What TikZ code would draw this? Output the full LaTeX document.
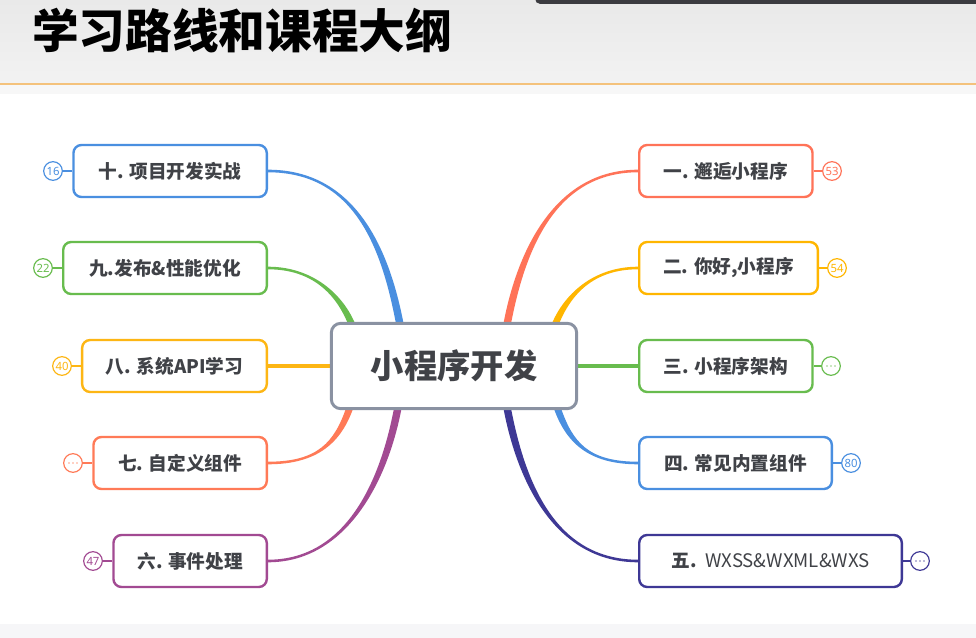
\documentclass[tikz,border=0pt]{standalone}
\usepackage{fontspec}
\setmainfont{Noto Sans CJK SC}
\newfontfamily\numfont{Noto Sans}
\usetikzlibrary{calc,backgrounds}

\definecolor{cblue}{HTML}{4A8FE0}
\definecolor{cgreen}{HTML}{68BC4E}
\definecolor{cyellow}{HTML}{FDB614}
\definecolor{corange}{HTML}{FF7A57}
\definecolor{cpurple}{HTML}{A24A92}
\definecolor{cnavy}{HTML}{3E3895}
\definecolor{ccoral}{HTML}{FF7358}
\definecolor{camber}{HTML}{FFB600}
\definecolor{hubline}{HTML}{8A92A2}
\definecolor{ink}{HTML}{404247}
\definecolor{headtop}{HTML}{E9E9E9}
\definecolor{headbot}{HTML}{F2F2F2}
\definecolor{rulecol}{HTML}{F4C27C}
\definecolor{darkbar}{HTML}{3B3B40}
\definecolor{footbg}{HTML}{F6F6F8}

% tapered branch: #1 colour, #2 topic anchor, #3 hub point,
% #4 control offset at the topic, #5 control offset at the hub, #6 half width at the hub
\newcommand\branch[6]{%
  \fill[#1] ($(#2)+(0,-1.3)$) .. controls +(#4) and +(#5) .. ($(#3)+(#6)$)
    -- ($(#3)-(#6)$) .. controls +(#5) and +(#4) .. ($(#2)+(0,1.3)$) -- cycle;}

\begin{document}
\begin{tikzpicture}[x=0.75pt,y=-0.75pt,
  topic/.style={draw=#1, line width=1.8pt, rounded corners=6pt, fill=white,
    minimum height=39pt, inner sep=0pt, text=ink,
    font=\fontsize{14}{16}\selectfont\bfseries},
  badge/.style={draw=#1, line width=0.9pt, circle, fill=white,
    minimum size=14pt, inner sep=0pt, text=#1,
    font=\numfont\fontsize{8.5}{8.5}\selectfont},
  stub/.style={draw=#1, line width=1.1pt},
  hub/.style={draw=hubline, line width=2.2pt, rounded corners=7pt, fill=white,
    minimum width=184pt, minimum height=64pt, text=ink,
    font=\fontsize{25}{30}\selectfont\bfseries},
]
\useasboundingbox (0,0) rectangle (976,638);

\node[anchor=west, inner sep=0pt, text=black,
  font=\fontsize{35}{40}\selectfont\bfseries] (title) at (32,31) {学习路线和课程大纲};

% central topic
\node[hub] (c) at (454,366) {小程序开发};

% left topics
\node[topic=cblue,   minimum width=145pt, anchor=east] (n10) at (268,171) {十. 项目开发实战};
\node[topic=cgreen,  minimum width=152.7pt, anchor=east] (n9) at (268,268) {九.发布\&性能优化};
\node[topic=cyellow, minimum width=138.5pt, anchor=east] (n8) at (268,366) {八. 系统API学习};
\node[topic=corange, minimum width=130pt, anchor=east] (n7) at (268,463) {七. 自定义组件};
\node[topic=cpurple, minimum width=115pt, anchor=east] (n6) at (268,561) {六. 事件处理};

% right topics
\node[topic=ccoral,  minimum width=130pt, anchor=west] (n1) at (638,171) {一. 邂逅小程序};
\node[topic=camber,  minimum width=134pt, anchor=west] (n2) at (638,268) {二. 你好,小程序};
\node[topic=cgreen,  minimum width=130pt, anchor=west] (n3) at (638,366) {三. 小程序架构};
\node[topic=cblue,   minimum width=144.5pt, anchor=west] (n4) at (638,463) {四. 常见内置组件};
\node[topic=cnavy,   minimum width=197pt, anchor=west] (n5) at (638,561)
  {五.\ \ \mdseries WXSS\&WXML\&WXS};

% count badges
\node[badge=cblue]   (t10) at (53,171) {16};
\node[badge=cgreen]  (t9)  at (43,268) {22};
\node[badge=cyellow] (t8)  at (62,366) {40};
\node[badge=corange] (t7)  at (73,463) {};
\node[badge=cpurple] (t6)  at (93,561) {47};
\node[badge=ccoral]  (t1)  at (832,171) {53};
\node[badge=camber]  (t2)  at (837,268) {54};
\node[badge=cgreen]  (t3)  at (831,366) {};
\node[badge=cblue]   (t4)  at (851,463) {80};
\node[badge=cnavy]   (t5)  at (920,561) {};
\foreach \t/\col in {t7/corange, t3/cgreen, t5/cnavy}
  \foreach \d in {-4,0,4}
    \fill[\col!70] ($(\t)+(\d,0)$) circle (0.9);

\draw[stub=cblue]   (t10) -- (n10);
\draw[stub=cgreen]  (t9)  -- (n9);
\draw[stub=cyellow] (t8)  -- (n8);
\draw[stub=corange] (t7)  -- (n7);
\draw[stub=cpurple] (t6)  -- (n6);
\draw[stub=ccoral]  (t1)  -- (n1);
\draw[stub=camber]  (t2)  -- (n2);
\draw[stub=cgreen]  (t3)  -- (n3);
\draw[stub=cblue]   (t4)  -- (n4);
\draw[stub=cnavy]   (t5)  -- (n5);

% branches from the central topic
\coordinate (h10) at ($(c.north)+(-54,3)$);
\coordinate (h9)  at ($(c.north)+(-102,3)$);
\coordinate (h7)  at ($(c.south)+(-104,-3)$);
\coordinate (h6)  at ($(c.south)+(-56,-3)$);
\coordinate (h1)  at ($(c.north)+(53,3)$);
\coordinate (h2)  at ($(c.north)+(101,3)$);
\coordinate (h4)  at ($(c.south)+(103,-3)$);
\coordinate (h5)  at ($(c.south)+(53,-3)$);

\begin{pgfonlayer}{background}
  % page background, header and footer bands
  \fill[white] (0,0) rectangle (976,638);
  \shade[top color=headtop, bottom color=headbot] (0,0) rectangle (976,84);
  \fill[headbot!60!white] (0,85) rectangle (976,94);
  \draw[rulecol, line width=1.5pt] (0,84.5) -- (976,84.5);
  \fill[footbg] (0,624) rectangle (976,638);
  \fill[darkbar, rounded corners=4pt] (535,-10) rectangle (990,4);

  \branch{cblue}{n10.east}{h10}{85,0}{-15,-80}{3.8,0}
  \branch{cgreen}{n9.east}{h9}{45,0}{-12,-30}{3.6,0}
  \draw[cyellow, line width=3pt] (n8) -- (c);
  \branch{corange}{n7.east}{h7}{50,0}{-12,35}{-3.6,0}
  \branch{cpurple}{n6.east}{h6}{75,0}{-15,80}{-3.8,0}
  \branch{ccoral}{n1.west}{h1}{-80,0}{15,-80}{-3.8,0}
  \branch{camber}{n2.west}{h2}{-45,0}{12,-30}{-3.6,0}
  \draw[cgreen, line width=3pt] (c) -- (n3);
  \branch{cblue}{n4.west}{h4}{-50,0}{12,35}{3.6,0}
  \branch{cnavy}{n5.west}{h5}{-80,0}{15,80}{3.8,0}
\end{pgfonlayer}
\end{tikzpicture}
\end{document}
